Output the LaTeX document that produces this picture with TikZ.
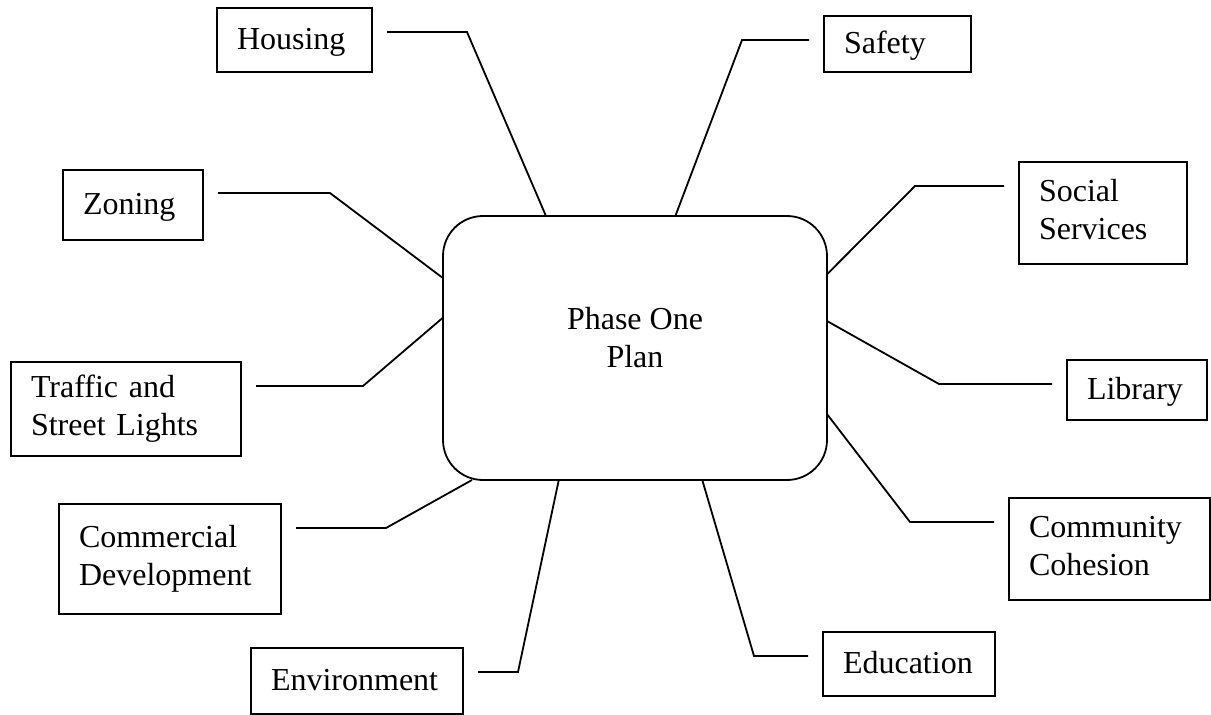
\documentclass[tikz,border=0pt]{standalone}
\usepackage{fontspec}
\setmainfont{Liberation Serif}

\begin{document}
\begin{tikzpicture}[x=1pt,y=-1pt,
    every node/.style={font=\fontsize{32}{38}\selectfont, outer sep=0pt},
    topic/.style={draw, line width=1.8pt, anchor=north west, inner xsep=20pt,
      inner ysep=0pt, align=left, text height=22pt, text depth=4pt},
    topictwo/.style={topic, text depth=46pt},
    plan/.style={draw, line width=1.8pt, rounded corners=40pt, minimum width=384pt,
      minimum height=264pt, align=center, text depth=22pt},
    link/.style={line width=1.8pt, shorten >=15pt}]
  \useasboundingbox (0,0) rectangle (1211,715);

  \node[plan] (plan) at (635,348) {Phase One\\Plan};

  \node[topic, text width=115pt, minimum height=64pt] (housing) at (217,8) {Housing};
  \node[topic, text width=100pt, minimum height=70pt] (zoning) at (63,170) {Zoning};
  \node[topictwo, text width=190pt, minimum height=94pt] (traffic) at (11,362) {Traffic and\\Street Lights};
  \node[topictwo, text width=182pt, minimum height=110pt] (commercial) at (59,504) {Commercial\\Development};
  \node[topic, text width=172pt, minimum height=66pt] (environment) at (251,648) {Environment};
  \node[topic, text width=107pt, minimum height=56pt] (safety) at (824,16) {Safety};
  \node[topictwo, text width=128pt, minimum height=102pt] (social) at (1019,162) {Social\\Services};
  \node[topic, text width=100pt, minimum height=60pt] (library) at (1067,360) {Library};
  \node[topictwo, text width=161pt, minimum height=102pt] (community) at (1009,498) {Community\\Cohesion};
  \node[topic, text width=132pt, minimum height=64pt] (education) at (823,632) {Education};

  \coordinate (hb) at (467,32);
  \coordinate (zb) at (330,193);
  \coordinate (tb) at (363,386);
  \coordinate (cb) at (386,528);
  \coordinate (eb) at (518,672);
  \coordinate (sb) at (742,40);
  \coordinate (socb) at (915,186);
  \coordinate (lb) at (939,384);
  \coordinate (comb) at (910,522);
  \coordinate (edb) at (754,656);

  \draw[link] (plan.124) -- (hb) -- (hb -| housing.east);
  \draw[link] (plan.160) -- (zb) -- (zb -| zoning.east);
  \draw[link] (plan.171) -- (tb) -- (tb -| traffic.east);
  \draw[link] (plan.219) -- (cb) -- (cb -| commercial.east);
  \draw[link] (plan.240) -- (eb) -- (eb -| environment.east);
  \draw[link] (plan.73) -- (sb) -- (sb -| safety.west);
  \draw[link] (plan.21) -- (socb) -- (socb -| social.west);
  \draw[link] (plan.8) -- (lb) -- (lb -| library.west);
  \draw[link] (plan.341) -- (comb) -- (comb -| community.west);
  \draw[link] (plan.297) -- (edb) -- (edb -| education.west);
\end{tikzpicture}
\end{document}
